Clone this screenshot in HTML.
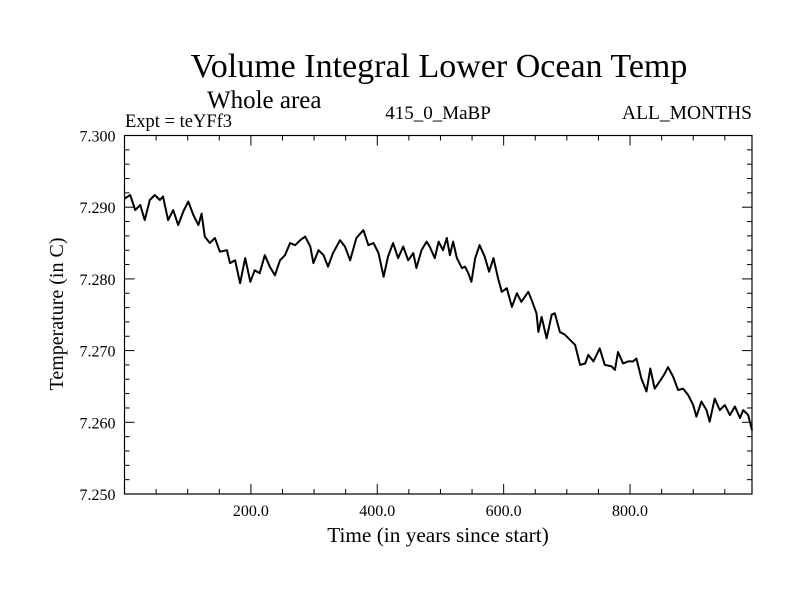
<!DOCTYPE html>
<html><head><meta charset="utf-8"><style>
body{margin:0;background:#fff}
svg text{font-family:"Liberation Serif",serif;fill:#000}
</style></head><body>
<svg id="chart" width="800" height="600">
<rect width="800" height="600" fill="#fff"/>
<text x="439" y="77" font-size="34" text-anchor="middle">Volume Integral Lower Ocean Temp</text>
<text x="207" y="108" font-size="25">Whole area</text>
<text x="125" y="127" font-size="18.5">Expt = teYFf3</text>
<text x="438" y="119" font-size="19" text-anchor="middle">415_0_MaBP</text>
<text x="752" y="119" font-size="19.5" text-anchor="end">ALL_MONTHS</text>
<text x="438" y="542" font-size="21.3" text-anchor="middle">Time (in years since start)</text>
<text x="0" y="0" font-size="20" text-anchor="middle" transform="translate(63,314) rotate(-90)">Temperature (in C)</text>
<g id="axes"></g>
<path id="series" fill="none" stroke="#000" stroke-width="2" stroke-linejoin="round"/>
</svg>
<script>
const years=[0,9,17,25,32,40,48,56,61,69,77,85,93,101,109,117,122,127,135,143,151,162,167,175,183,191,199,206,214,222,230,238,246,254,262,270,278,286,294,299,307,315,322,330,341,349,357,367,378,386,394,402,410,417,425,433,441,449,457,462,470,478,483,491,497,504,510,515,520,526,534,539,544,549,555,562,570,577,584,591,597,605,613,621,628,639,644,652,655,660,668,676,681,689,697,705,713,721,729,734,742,752,760,771,776,781,789,797,805,810,818,826,832,839,847,855,860,868,876,884,892,900,905,913,921,926,934,942,950,958,966,974,979,987,993];
const temps=[7.2912,7.2917,7.2896,7.2903,7.2882,7.2910,7.2917,7.2910,7.2915,7.2882,7.2896,7.2875,7.2894,7.2908,7.2889,7.2875,7.2891,7.2859,7.2850,7.2857,7.2838,7.2840,7.2822,7.2826,7.2794,7.2829,7.2796,7.2812,7.2808,7.2833,7.2817,7.2805,7.2826,7.2833,7.2850,7.2847,7.2854,7.2859,7.2845,7.2822,7.2840,7.2833,7.2817,7.2836,7.2854,7.2845,7.2826,7.2857,7.2868,7.2847,7.2850,7.2836,7.2803,7.2831,7.2850,7.2829,7.2845,7.2826,7.2836,7.2815,7.2840,7.2852,7.2845,7.2829,7.2852,7.2840,7.2857,7.2833,7.2852,7.2829,7.2815,7.2817,7.2808,7.2796,7.2829,7.2847,7.2831,7.2810,7.2829,7.2801,7.2782,7.2787,7.2761,7.2780,7.2768,7.2782,7.2771,7.2752,7.2726,7.2747,7.2717,7.2750,7.2752,7.2726,7.2722,7.2715,7.2708,7.2680,7.2682,7.2694,7.2685,7.2703,7.2680,7.2678,7.2673,7.2698,7.2682,7.2685,7.2685,7.2689,7.2661,7.2643,7.2675,7.2647,7.2657,7.2668,7.2677,7.2664,7.2645,7.2647,7.2638,7.2624,7.2608,7.2629,7.2617,7.2601,7.2633,7.2617,7.2624,7.2610,7.2622,7.2606,7.2617,7.2610,7.2589];
const xTickLabels=[200,400,600,800];
const yTickLabels=[7.25,7.26,7.27,7.28,7.29,7.30];
const X0=124.5,X1=752,Y0=494,Y1=135.5,xmin=0,xmax=993,ymin=7.25,ymax=7.30;
const sx=v=>X0+(v-xmin)/(xmax-xmin)*(X1-X0);
const sy=v=>Y0-(v-ymin)/(ymax-ymin)*(Y0-Y1);
const NS='http://www.w3.org/2000/svg';
const g=document.getElementById('axes');
function line(x1,y1,x2,y2,w){const l=document.createElementNS(NS,'line');l.setAttribute('x1',x1);l.setAttribute('y1',y1);l.setAttribute('x2',x2);l.setAttribute('y2',y2);l.setAttribute('stroke','#000');l.setAttribute('stroke-width',w||1);g.appendChild(l);return l;}
const fr=document.createElementNS(NS,'rect');
fr.setAttribute('x',X0);fr.setAttribute('y',Y1);fr.setAttribute('width',X1-X0);fr.setAttribute('height',Y0-Y1);
fr.setAttribute('fill','none');fr.setAttribute('stroke','#000');fr.setAttribute('stroke-width','1.2');


g.appendChild(fr);
for(let t=50;t<xmax;t+=50){const x=sx(t);const major=t%200===0;const L=major?10:5;
const a=line(x,Y0,x,Y0-L);
const b=line(x,Y1,x,Y1+L);}
for(let i=0;i<=25;i++){const v=ymin+i*0.002;const y=sy(v);const major=i%5===0;const L=major?10:5;
const a=line(X0,y,X0+L,y);
const b=line(X1,y,X1-L,y);}
xTickLabels.forEach(t=>{const e=document.createElementNS(NS,'text');e.setAttribute('x',sx(t));e.setAttribute('y',Y0+22);e.setAttribute('font-size','16');e.setAttribute('text-anchor','middle');e.textContent=t.toFixed(1);


g.appendChild(e);});
yTickLabels.forEach(t=>{const e=document.createElementNS(NS,'text');e.setAttribute('x',X0-9);e.setAttribute('y',sy(t)+6);e.setAttribute('font-size','16');e.setAttribute('text-anchor','end');e.textContent=t.toFixed(3);


g.appendChild(e);});
let d='';years.forEach((yr,i)=>{d+=(i?'L':'M')+sx(yr).toFixed(1)+','+sy(temps[i]).toFixed(1);});
document.getElementById('series').setAttribute('d',d);
</script>
</body></html>
